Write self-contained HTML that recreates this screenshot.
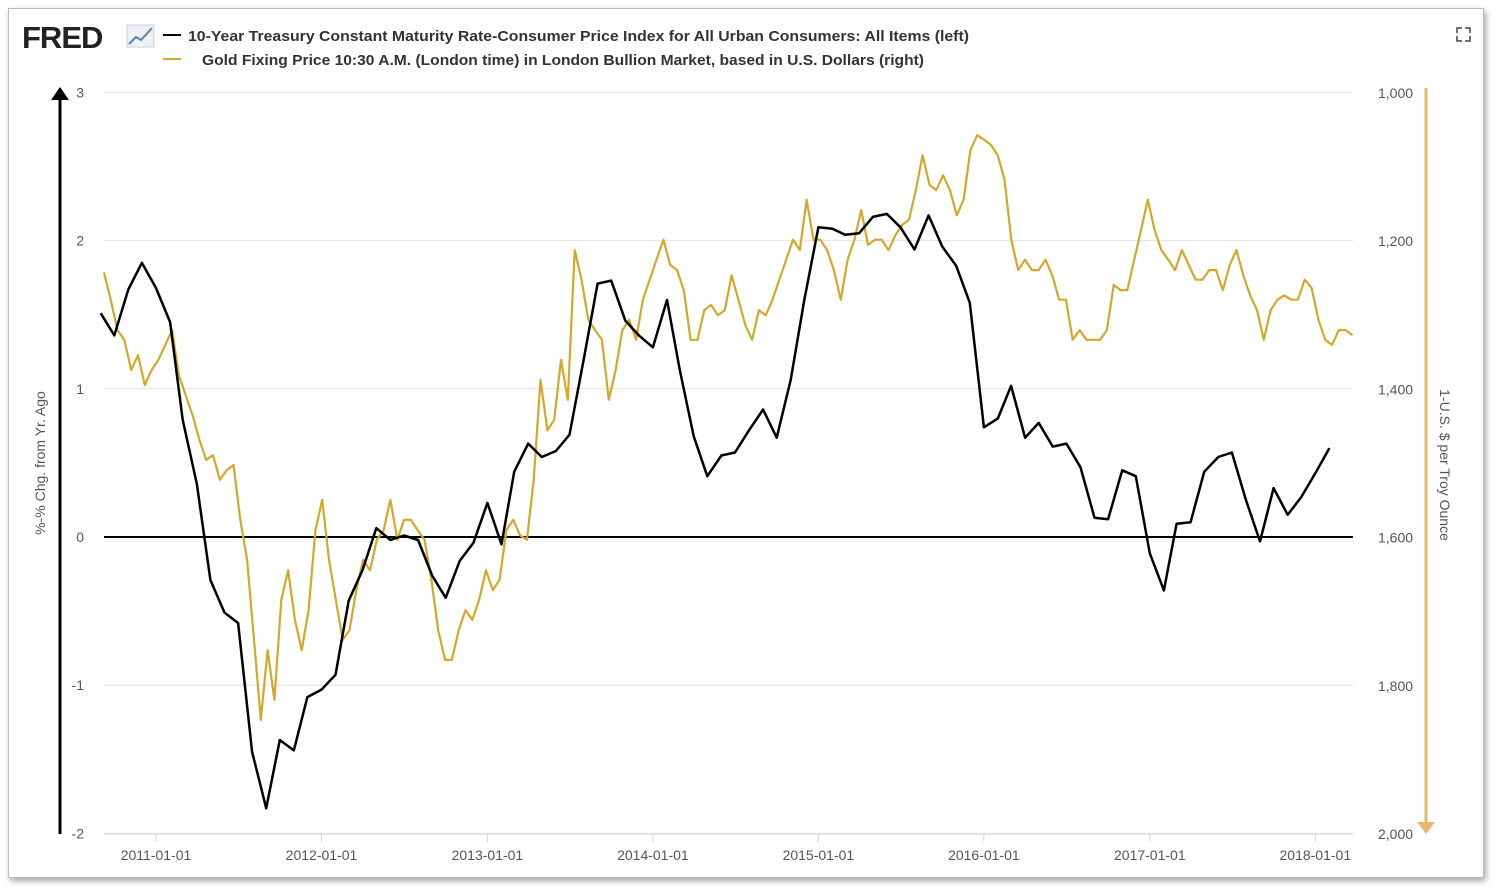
<!DOCTYPE html>
<html><head><meta charset="utf-8"><style>
body{margin:0;background:#fff;width:1496px;height:891px;overflow:hidden;font-family:"Liberation Sans",sans-serif}
#frame{position:absolute;left:8px;top:8px;width:1474px;height:868px;border:1px solid #bbb;box-shadow:2px 3px 6px rgba(0,0,0,.35);background:#fff}
</style></head><body>
<div id="frame"></div>
<svg id="c" width="1496" height="891" style="position:absolute;left:0;top:0">
<text x="22" y="48" font-size="31" font-weight="bold" fill="#222" letter-spacing="-1">FRED</text>
<g><rect x="127" y="25" width="27" height="22" fill="#eef2f7" stroke="#ccd"/><polyline points="129,44 136,37 141,40 152,28" fill="none" stroke="#5a7fb0" stroke-width="2"/></g>
<line x1="163" y1="35" x2="181" y2="35" stroke="#000" stroke-width="2"/>
<text x="188" y="41" font-size="15" fill="#333" font-weight="bold" textLength="781" lengthAdjust="spacingAndGlyphs">10-Year Treasury Constant Maturity Rate-Consumer Price Index for All Urban Consumers: All Items (left)</text>
<line x1="163" y1="59" x2="181" y2="59" stroke="#d4a82a" stroke-width="2"/>
<text x="202" y="65" font-size="15" fill="#333" font-weight="bold" textLength="722" lengthAdjust="spacingAndGlyphs">Gold Fixing Price 10:30 A.M. (London time) in London Bullion Market, based in U.S. Dollars (right)</text>
<g stroke="#444" stroke-width="1.5" fill="none"><path d="M1457 33v-5h5M1465 28h5v5M1470 36v5h-5M1462 41h-5v-5"/></g>
<g id="grid"></g><g id="axes"></g><g id="series"></g>
<text transform="translate(45,463) rotate(-90)" font-size="14" fill="#555" text-anchor="middle">%-% Chg. from Yr. Ago</text>
<text transform="translate(1440,465) rotate(90)" font-size="14" fill="#555" text-anchor="middle">1-U.S. $ per Troy Ounce</text>
<line x1="60" y1="834" x2="60" y2="98" stroke="#000" stroke-width="3"/>
<polygon points="51,100 69,100 60,87" fill="#000"/>
<line x1="1426" y1="88" x2="1426" y2="824" stroke="#e8b86a" stroke-width="3"/>
<polygon points="1417,822 1435,822 1426,834" fill="#e8b86a"/>
</svg>
<script>
const leftTicks=[3,2,1,0,-1,-2];
const rightTicks=[1000,1200,1400,1600,1800,2000];
const xTickLabels=["2011-01-01","2012-01-01","2013-01-01","2014-01-01","2015-01-01","2016-01-01","2017-01-01","2018-01-01"];
const rateStart="2010-09-01";
const rateValues=[1.51,1.36,1.67,1.85,1.68,1.45,0.79,0.36,-0.29,-0.51,-0.58,-1.45,-1.83,-1.37,-1.44,-1.08,-1.03,-0.93,-0.43,-0.22,0.06,-0.02,0.01,-0.02,-0.26,-0.41,-0.16,-0.04,0.23,-0.05,0.44,0.63,0.54,0.58,0.69,1.19,1.71,1.73,1.46,1.36,1.28,1.60,1.13,0.68,0.41,0.55,0.57,0.72,0.86,0.67,1.06,1.60,2.09,2.08,2.04,2.05,2.16,2.18,2.09,1.94,2.17,1.96,1.83,1.58,0.74,0.80,1.02,0.67,0.77,0.61,0.63,0.47,0.13,0.12,0.45,0.41,-0.11,-0.36,0.09,0.10,0.44,0.54,0.57,0.25,-0.03,0.33,0.15,0.27,0.43,0.60];
const goldStart="2010-09-08", goldEnd="2018-03-24";
const goldValues=[1242,1279,1320,1333,1374,1354,1394,1374,1360,1340,1320,1381,1408,1435,1468,1495,1489,1522,1509,1502,1576,1630,1738,1846,1752,1819,1684,1644,1711,1752,1698,1590,1549,1630,1684,1738,1725,1671,1630,1644,1603,1590,1549,1603,1576,1576,1590,1603,1657,1725,1765,1765,1725,1698,1711,1684,1644,1671,1657,1590,1576,1597,1603,1522,1387,1455,1441,1360,1414,1212,1252,1306,1320,1333,1414,1374,1320,1306,1333,1279,1252,1225,1198,1232,1239,1266,1333,1333,1293,1286,1300,1293,1246,1279,1313,1333,1293,1300,1279,1252,1225,1198,1212,1144,1198,1198,1212,1239,1279,1225,1198,1158,1205,1198,1198,1212,1192,1178,1171,1131,1084,1124,1131,1111,1131,1165,1144,1077,1057,1063,1070,1084,1117,1198,1239,1225,1239,1239,1225,1246,1279,1279,1333,1320,1333,1333,1333,1320,1259,1266,1266,1225,1185,1144,1185,1212,1225,1239,1212,1232,1252,1252,1239,1239,1266,1232,1212,1246,1273,1293,1333,1293,1279,1273,1279,1279,1252,1263,1306,1333,1340,1320,1320,1327];

const NS="http://www.w3.org/2000/svg";
const X0=104,X1=1353,T0=93,B0=834;
const ref=Date.UTC(2011,0,1), pxYear=165.6;
function xDate(ms){return 156+(ms-ref)/(365.25*864e5)*pxYear;}
function yL(v){return 537-v*148.2;}
function yR(p){return T0+(p-1000)/1000*(B0-T0);}
function mk(tag,attrs,parent){const e=document.createElementNS(NS,tag);for(const k in attrs)e.setAttribute(k,attrs[k]);parent.appendChild(e);return e;}
const grid=document.getElementById('grid'),axes=document.getElementById('axes'),ser=document.getElementById('series');
leftTicks.forEach((v,i)=>{
  if(v!==0){const l=mk('line',{x1:X0,x2:X1,y1:yL(v),y2:yL(v),stroke:'#e3e3e3','stroke-width':1},grid);
  
  }
  const t=mk('text',{x:84,y:yL(v)+5,'font-size':14,fill:'#555','text-anchor':'end'},axes);t.textContent=v;
  
  
});
rightTicks.forEach(p=>{
  const t=mk('text',{x:1378,y:yR(p)+5,'font-size':14,fill:'#555'},axes);t.textContent=p.toLocaleString('en-US');
  
  
});
const xa=mk('line',{x1:X0,x2:X1,y1:B0,y2:B0,stroke:'#ccd6eb','stroke-width':1},axes);


xTickLabels.forEach(s=>{
  const x=xDate(Date.parse(s));
  const tk=mk('line',{x1:x,x2:x,y1:B0,y2:B0+8,stroke:'#ccd6eb'},axes);
  
  
  const t=mk('text',{x:x,y:B0+26,'font-size':14,fill:'#555','text-anchor':'middle'},axes);t.textContent=s;
  
  
});
const zl=mk('line',{x1:X0,x2:X1,y1:yL(0),y2:yL(0),stroke:'#000','stroke-width':2},ser);


const gs=Date.parse(goldStart),ge=Date.parse(goldEnd);
const gp=goldValues.map((p,i)=>xDate(gs+(ge-gs)*i/(goldValues.length-1)).toFixed(1)+','+yR(p).toFixed(1)).join(' ');
const g=mk('polyline',{points:gp,fill:'none',stroke:'#d4a82a','stroke-width':2.2,'stroke-linejoin':'round'},ser);


const rs=new Date(rateStart);
const rp=rateValues.map((v,i)=>{const d=Date.UTC(rs.getUTCFullYear(),rs.getUTCMonth()+i,1);return xDate(d).toFixed(1)+','+yL(v).toFixed(1);}).join(' ');
const r=mk('polyline',{points:rp,fill:'none',stroke:'#000','stroke-width':2.5,'stroke-linejoin':'round'},ser);


</script>
</body></html>
